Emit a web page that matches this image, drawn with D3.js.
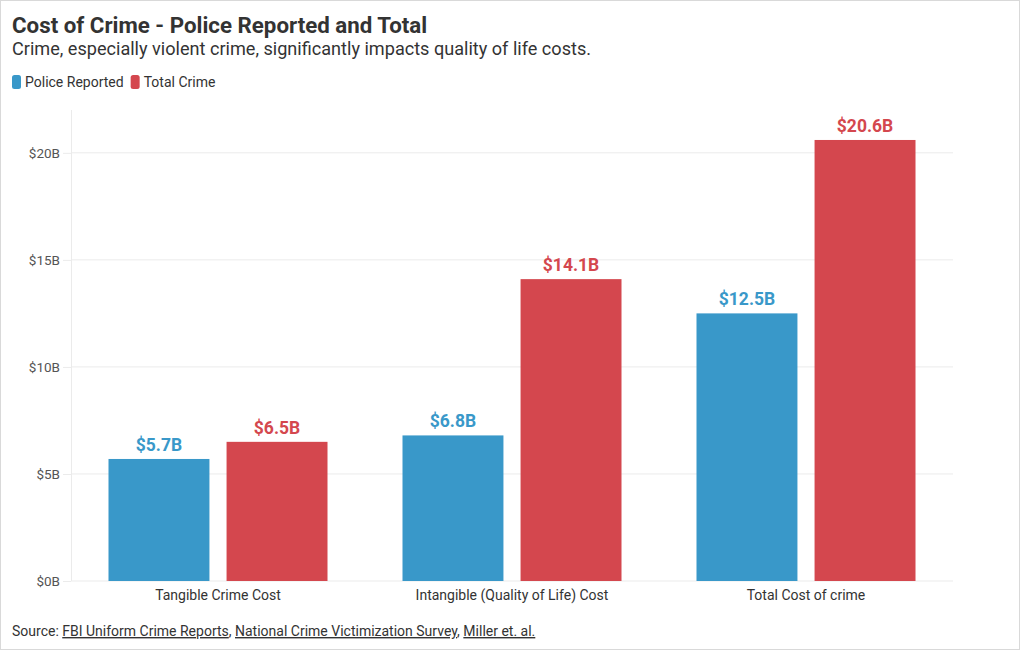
<!DOCTYPE html>
<html><head><meta charset="utf-8">
<script src="https://cdn.jsdelivr.net/npm/d3@7"></script>
<style>
body{margin:0;background:#fff;font-family:Roboto,"Noto Sans",sans-serif;}
svg{display:block}
</style></head><body>
<svg id="c" width="1020" height="650"></svg>
<script>
const categories = ["Tangible Crime Cost", "Intangible (Quality of Life) Cost", "Total Cost of crime"];
const seriesNames = ["Police Reported", "Total Crime"];
const policeReported = [5.7, 6.8, 12.5];
const totalCrime = [6.5, 14.1, 20.6];
const yTicks = [0, 5, 10, 15, 20];
const colors = ["#3998c9", "#d4474e"];

const svg = d3.select("#c");
svg.append("rect").attr("x",0.5).attr("y",0.5).attr("width",1019).attr("height",649)
  .attr("fill","#fff").attr("stroke","#d9d9d9");

svg.append("text").attr("x",12).attr("y",33).attr("font-size",22.3).attr("font-weight",700)
  .attr("fill","#333").text("Cost of Crime - Police Reported and Total");
svg.append("text").attr("x",12).attr("y",55).attr("font-size",18.1)
  .attr("fill","#333").text("Crime, especially violent crime, significantly impacts quality of life costs.");

// legend
const lg = svg.append("g").attr("transform","translate(12,75)");
let lx = 0;
seriesNames.forEach((n,i)=>{
  lg.append("rect").attr("x",lx).attr("y",0).attr("width",9).attr("height",14).attr("rx",2.5)
    .attr("fill",colors[i]);
  const t = lg.append("text").attr("x",lx+13).attr("y",12).attr("font-size",14).attr("fill","#333").text(n);
  lx += 13 + t.node().getComputedTextLength() + 7;
});

const x0 = d3.scaleBand().domain(categories).range([71,953]).paddingInner(0).paddingOuter(0);
const y = d3.scaleLinear().domain([0,22]).range([581,110]);
const x1 = d3.scaleBand().domain(seriesNames).range([37.5, x0.bandwidth()-37.5]).paddingInner(0.145);

// grid
svg.append("g").selectAll("line").data(yTicks).join("line")
  .attr("x1",71).attr("x2",953).attr("y1",d=>y(d)).attr("y2",d=>y(d))
  .attr("stroke","#ebebeb").attr("stroke-width",1);
svg.append("line").attr("x1",71.5).attr("x2",71.5).attr("y1",110).attr("y2",581)
  .attr("stroke","#ebebeb");

const yAxis = svg.append("g").attr("transform","translate(71,0)")
  .call(d3.axisLeft(y).tickValues(yTicks).tickFormat(d=>"$"+d+"B").tickSize(8).tickPadding(3));
yAxis.select(".domain").remove();
yAxis.selectAll(".tick line").attr("stroke","#ebebeb");
yAxis.selectAll("text").attr("font-size",13.5).attr("fill","#555").attr("font-family","Roboto");

const xAxis = svg.append("g").attr("transform","translate(0,581)")
  .call(d3.axisBottom(x0).tickSize(0).tickPadding(9));
xAxis.select(".domain").remove();
xAxis.selectAll("text").attr("font-size",14).attr("fill","#333").attr("font-family","Roboto");

const data = categories.map((c,i)=>({cat:c, vals:[policeReported[i], totalCrime[i]]}));
const groups = svg.append("g").selectAll("g").data(data).join("g")
  .attr("transform",d=>`translate(${x0(d.cat)},0)`);
groups.selectAll("rect").data(d=>d.vals.map((v,i)=>({s:seriesNames[i],v,i}))).join("rect")
  .attr("x",d=>x1(d.s)).attr("width",x1.bandwidth())
  .attr("y",d=>y(d.v)).attr("height",d=>y(0)-y(d.v)).attr("fill",d=>colors[d.i]);
groups.selectAll("text.v").data(d=>d.vals.map((v,i)=>({s:seriesNames[i],v,i}))).join("text")
  .attr("class","v").attr("x",d=>x1(d.s)+x1.bandwidth()/2).attr("y",d=>y(d.v)-8)
  .attr("text-anchor","middle").attr("font-size",17.5).attr("font-weight",700)
  .attr("fill",d=>colors[d.i]).text(d=>"$"+d.v.toFixed(1)+"B");

// source
const src = svg.append("text").attr("x",12).attr("y",636).attr("font-size",14).attr("fill","#333");
src.append("tspan").text("Source: ");
const links = ["FBI Uniform Crime Reports","National Crime Victimization Survey","Miller et. al."];
links.forEach((l,i)=>{
  src.append("tspan").attr("text-decoration","underline").text(l);
  if(i<links.length-1) src.append("tspan").text(", ");
});
</script>
</body></html>
